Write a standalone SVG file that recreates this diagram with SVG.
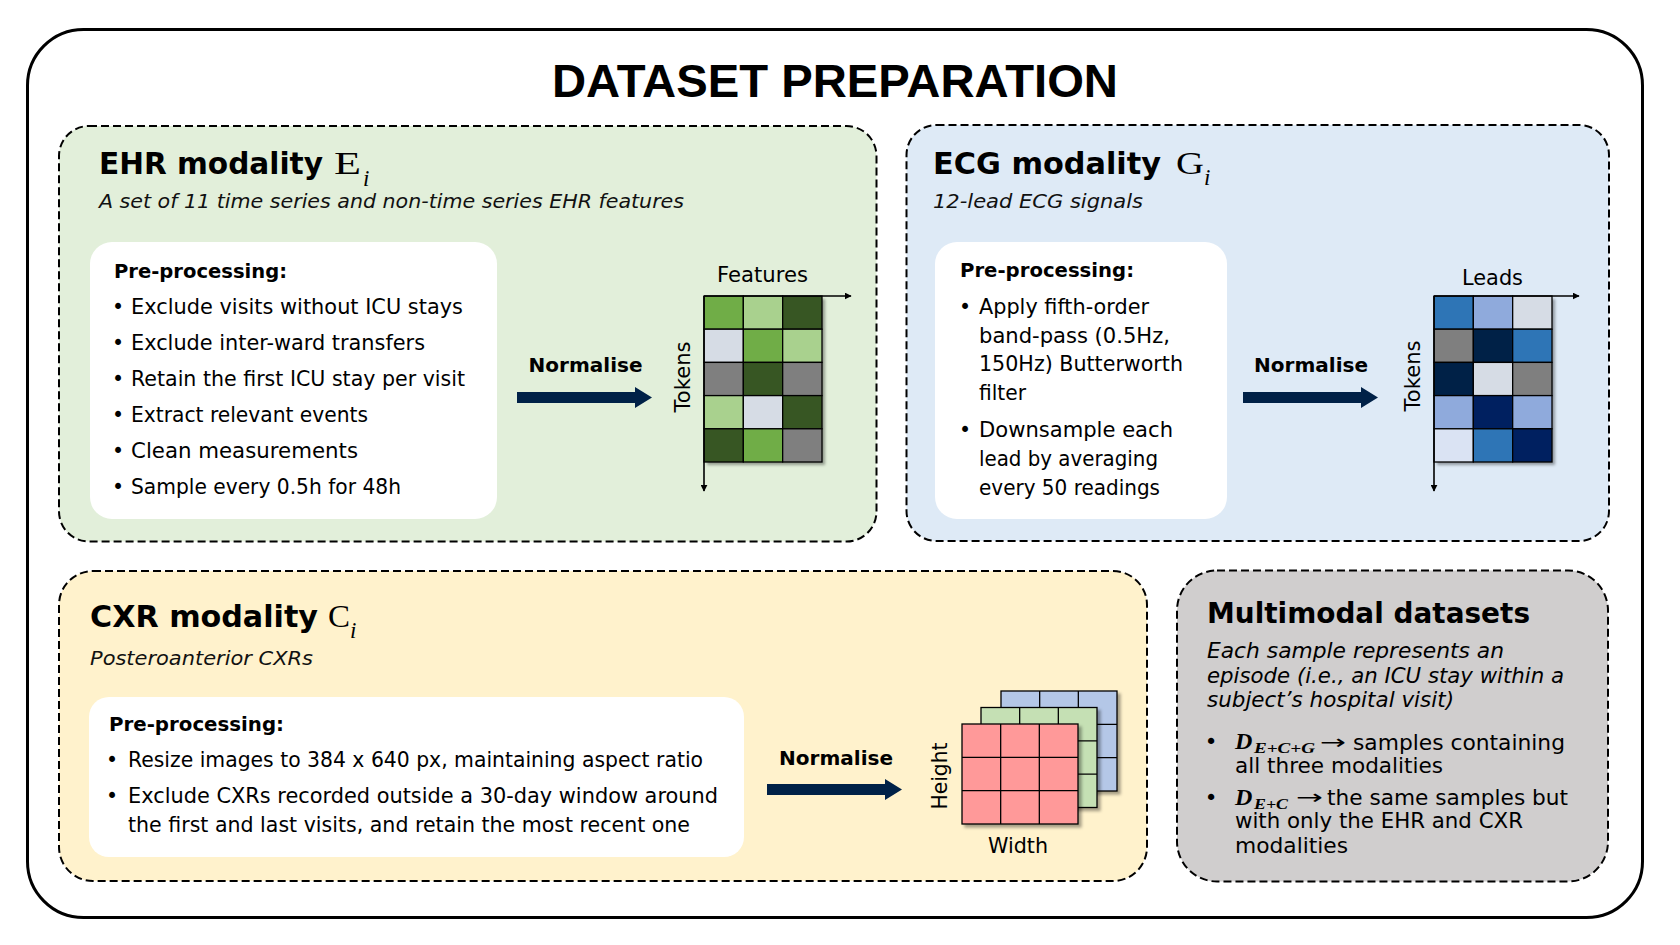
<svg xmlns="http://www.w3.org/2000/svg" width="1680" height="945" viewBox="0 0 1680 945">
<defs>
<style>
.t{font-family:"DejaVu Sans","Liberation Sans",sans-serif;fill:#000}
.b{font-weight:bold}
.i{font-style:italic}
.h2{font-size:30px;font-weight:bold}
.sub{font-size:20px;font-style:italic;fill:#111}
.body{font-size:20.5px}
.pp{font-size:20px;font-weight:bold}
.norm{font-size:20px;font-weight:bold}
.ax{font-size:20.5px}
.m{font-family:"Liberation Serif","DejaVu Serif",serif;fill:#000}
.dash{stroke:#000;stroke-width:2;stroke-dasharray:8 4}
.card{fill:#fff}
.cell{stroke:#000;stroke-width:1.3}
.axis{stroke:#000;stroke-width:1.6;fill:none}
.arrow{fill:#002147}
</style>
<marker id="ah" viewBox="0 0 10 10" refX="9" refY="5" markerWidth="7" markerHeight="7" markerUnits="userSpaceOnUse" orient="auto">
<path d="M0,0 L10,5 L0,10 Z" fill="#000"/>
</marker>
<filter id="sh" x="-10%" y="-10%" width="130%" height="130%">
<feDropShadow dx="3" dy="3" stdDeviation="1.5" flood-color="#000" flood-opacity="0.35"/>
</filter>
<path id="arr" d="M0,-5.5 H118 V-10.5 L135,0 L118,10.5 V5.5 H0 Z"/>
</defs>

<rect width="1680" height="945" fill="#fff"/>

<g id="frame">
<rect x="27.5" y="29.5" width="1615" height="888" rx="56" ry="56" fill="none" stroke="#000" stroke-width="3"/>
<text class="t b" x="835" y="97" text-anchor="middle" style="font-family:'Liberation Sans',Arial,sans-serif;font-size:47px" textLength="566" lengthAdjust="spacingAndGlyphs">DATASET PREPARATION</text>
</g>

<!-- EHR -->
<g id="ehr">
<rect x="59" y="126" width="817.5" height="415.5" rx="30" class="dash" fill="#E2EFDA"/>
<text class="t h2" x="99" y="174" textLength="224" lengthAdjust="spacingAndGlyphs">EHR modality</text>
<text class="m" x="334" y="174" font-size="32" textLength="27" lengthAdjust="spacingAndGlyphs">E</text>
<text class="m" x="363" y="186" font-size="23" font-style="italic">i</text>
<text class="t sub" x="99" y="208" textLength="585" lengthAdjust="spacingAndGlyphs">A set of 11 time series and non-time series EHR features</text>
<rect x="90" y="242" width="407" height="277" rx="22" class="card"/>
<text class="t pp" x="114" y="278" textLength="173" lengthAdjust="spacingAndGlyphs">Pre-processing:</text>
<g class="t body">
<text x="118" y="314" text-anchor="middle">•</text>
<text x="131" y="314" textLength="332" lengthAdjust="spacingAndGlyphs">Exclude visits without ICU stays</text>
<text x="118" y="350" text-anchor="middle">•</text>
<text x="131" y="350" textLength="294" lengthAdjust="spacingAndGlyphs">Exclude inter-ward transfers</text>
<text x="118" y="386" text-anchor="middle">•</text>
<text x="131" y="386" textLength="334" lengthAdjust="spacingAndGlyphs">Retain the first ICU stay per visit</text>
<text x="118" y="422" text-anchor="middle">•</text>
<text x="131" y="422" textLength="237" lengthAdjust="spacingAndGlyphs">Extract relevant events</text>
<text x="118" y="458" text-anchor="middle">•</text>
<text x="131" y="458" textLength="227" lengthAdjust="spacingAndGlyphs">Clean measurements</text>
<text x="118" y="494" text-anchor="middle">•</text>
<text x="131" y="494" textLength="270" lengthAdjust="spacingAndGlyphs">Sample every 0.5h for 48h</text>
</g>
<text class="t norm" x="585.5" y="372" text-anchor="middle" textLength="114" lengthAdjust="spacingAndGlyphs">Normalise</text>
<rect x="704" y="296" width="118" height="166" fill="#fff" filter="url(#sh)"/>
<g class="cell">
<rect x="704" y="296" width="39.33" height="33.2" fill="#70AD47"/>
<rect x="743.33" y="296" width="39.33" height="33.2" fill="#A9D18E"/>
<rect x="782.67" y="296" width="39.33" height="33.2" fill="#375623"/>
<rect x="704" y="329.2" width="39.33" height="33.2" fill="#D6DCE5"/>
<rect x="743.33" y="329.2" width="39.33" height="33.2" fill="#70AD47"/>
<rect x="782.67" y="329.2" width="39.33" height="33.2" fill="#A9D18E"/>
<rect x="704" y="362.4" width="39.33" height="33.2" fill="#7F7F7F"/>
<rect x="743.33" y="362.4" width="39.33" height="33.2" fill="#375623"/>
<rect x="782.67" y="362.4" width="39.33" height="33.2" fill="#7F7F7F"/>
<rect x="704" y="395.6" width="39.33" height="33.2" fill="#A9D18E"/>
<rect x="743.33" y="395.6" width="39.33" height="33.2" fill="#D6DCE5"/>
<rect x="782.67" y="395.6" width="39.33" height="33.2" fill="#375623"/>
<rect x="704" y="428.8" width="39.33" height="33.2" fill="#375623"/>
<rect x="743.33" y="428.8" width="39.33" height="33.2" fill="#70AD47"/>
<rect x="782.67" y="428.8" width="39.33" height="33.2" fill="#7F7F7F"/>
</g>
<line x1="704" y1="296" x2="851" y2="296" class="axis" marker-end="url(#ah)"/>
<line x1="704" y1="296" x2="704" y2="491" class="axis" marker-end="url(#ah)"/>
<text class="t ax" x="762.5" y="282" text-anchor="middle" textLength="91" lengthAdjust="spacingAndGlyphs">Features</text>
<text class="t ax" transform="translate(690,377) rotate(-90)" text-anchor="middle" textLength="71" lengthAdjust="spacingAndGlyphs">Tokens</text>
</g>

<!-- ECG -->
<g id="ecg">
<rect x="906.5" y="125" width="702.5" height="416" rx="30" class="dash" fill="#DEEAF6"/>
<text class="t h2" x="933" y="174" textLength="228" lengthAdjust="spacingAndGlyphs">ECG modality</text>
<text class="m" x="1176" y="174" font-size="32" textLength="28" lengthAdjust="spacingAndGlyphs">G</text>
<text class="m" x="1204" y="185" font-size="23" font-style="italic">i</text>
<text class="t sub" x="933" y="208" textLength="210" lengthAdjust="spacingAndGlyphs">12-lead ECG signals</text>
<rect x="935" y="242" width="292" height="277" rx="22" class="card"/>
<text class="t pp" x="960" y="277" textLength="174" lengthAdjust="spacingAndGlyphs">Pre-processing:</text>
<g class="t body">
<text x="965" y="314" text-anchor="middle">•</text>
<text x="979" y="314" textLength="170" lengthAdjust="spacingAndGlyphs">Apply fifth-order</text>
<text x="979" y="343" textLength="191" lengthAdjust="spacingAndGlyphs">band-pass (0.5Hz,</text>
<text x="979" y="371" textLength="204" lengthAdjust="spacingAndGlyphs">150Hz) Butterworth</text>
<text x="979" y="400" textLength="47" lengthAdjust="spacingAndGlyphs">filter</text>
<text x="965" y="437" text-anchor="middle">•</text>
<text x="979" y="437" textLength="194" lengthAdjust="spacingAndGlyphs">Downsample each</text>
<text x="979" y="466" textLength="179" lengthAdjust="spacingAndGlyphs">lead by averaging</text>
<text x="979" y="495" textLength="181" lengthAdjust="spacingAndGlyphs">every 50 readings</text>
</g>
<text class="t norm" x="1311" y="372" text-anchor="middle" textLength="114" lengthAdjust="spacingAndGlyphs">Normalise</text>
<rect x="1434" y="296" width="118" height="166" fill="#fff" filter="url(#sh)"/>
<g class="cell">
<rect x="1434" y="296" width="39.33" height="33.2" fill="#2E75B6"/>
<rect x="1473.33" y="296" width="39.33" height="33.2" fill="#8FAADC"/>
<rect x="1512.67" y="296" width="39.33" height="33.2" fill="#D6DCE5"/>
<rect x="1434" y="329.2" width="39.33" height="33.2" fill="#7F7F7F"/>
<rect x="1473.33" y="329.2" width="39.33" height="33.2" fill="#002147"/>
<rect x="1512.67" y="329.2" width="39.33" height="33.2" fill="#2E75B6"/>
<rect x="1434" y="362.4" width="39.33" height="33.2" fill="#002147"/>
<rect x="1473.33" y="362.4" width="39.33" height="33.2" fill="#D6DCE5"/>
<rect x="1512.67" y="362.4" width="39.33" height="33.2" fill="#7F7F7F"/>
<rect x="1434" y="395.6" width="39.33" height="33.2" fill="#8FAADC"/>
<rect x="1473.33" y="395.6" width="39.33" height="33.2" fill="#002060"/>
<rect x="1512.67" y="395.6" width="39.33" height="33.2" fill="#8FAADC"/>
<rect x="1434" y="428.8" width="39.33" height="33.2" fill="#DAE3F3"/>
<rect x="1473.33" y="428.8" width="39.33" height="33.2" fill="#2E75B6"/>
<rect x="1512.67" y="428.8" width="39.33" height="33.2" fill="#002060"/>
</g>
<line x1="1434" y1="296" x2="1579" y2="296" class="axis" marker-end="url(#ah)"/>
<line x1="1434" y1="296" x2="1434" y2="491" class="axis" marker-end="url(#ah)"/>
<text class="t ax" x="1492.5" y="285" text-anchor="middle" textLength="61" lengthAdjust="spacingAndGlyphs">Leads</text>
<text class="t ax" transform="translate(1420,376) rotate(-90)" text-anchor="middle" textLength="71" lengthAdjust="spacingAndGlyphs">Tokens</text>
</g>

<!-- CXR -->
<g id="cxr">
<rect x="59" y="571" width="1088" height="310" rx="34" class="dash" fill="#FFF2CC"/>
<text class="t h2" x="90" y="627" textLength="228" lengthAdjust="spacingAndGlyphs">CXR modality</text>
<text class="m" x="328" y="627" font-size="32" textLength="22" lengthAdjust="spacingAndGlyphs">C</text>
<text class="m" x="350" y="638" font-size="23" font-style="italic">i</text>
<text class="t sub" x="90" y="665" textLength="223" lengthAdjust="spacingAndGlyphs">Posteroanterior CXRs</text>
<rect x="89" y="697" width="655" height="160" rx="20" class="card"/>
<text class="t pp" x="109" y="731" textLength="175" lengthAdjust="spacingAndGlyphs">Pre-processing:</text>
<g class="t body">
<text x="112" y="767" text-anchor="middle">•</text>
<text x="128" y="767" textLength="575" lengthAdjust="spacingAndGlyphs">Resize images to 384 x 640 px, maintaining aspect ratio</text>
<text x="112" y="803" text-anchor="middle">•</text>
<text x="128" y="803" textLength="590" lengthAdjust="spacingAndGlyphs">Exclude CXRs recorded outside a 30-day window around</text>
<text x="128" y="832" textLength="562" lengthAdjust="spacingAndGlyphs">the first and last visits, and retain the most recent one</text>
</g>
<text class="t norm" x="836" y="765" text-anchor="middle" textLength="114" lengthAdjust="spacingAndGlyphs">Normalise</text>
<g filter="url(#sh)">
<rect x="1001" y="691" width="116" height="100" fill="#B4C7E7" class="cell"/>
</g>
<g class="cell" fill="none">
<line x1="1039.67" y1="691" x2="1039.67" y2="791"/><line x1="1078.33" y1="691" x2="1078.33" y2="791"/>
<line x1="1001" y1="724.33" x2="1117" y2="724.33"/><line x1="1001" y1="757.67" x2="1117" y2="757.67"/>
</g>
<g filter="url(#sh)">
<rect x="981" y="707.5" width="116" height="100" fill="#C5E0B4" class="cell"/>
</g>
<g class="cell" fill="none">
<line x1="1019.67" y1="707.5" x2="1019.67" y2="807.5"/><line x1="1058.33" y1="707.5" x2="1058.33" y2="807.5"/>
<line x1="981" y1="740.83" x2="1097" y2="740.83"/><line x1="981" y1="774.17" x2="1097" y2="774.17"/>
</g>
<g filter="url(#sh)">
<rect x="962" y="724" width="116" height="100" fill="#FF9999" class="cell"/>
</g>
<g class="cell" fill="none">
<line x1="1000.67" y1="724" x2="1000.67" y2="824"/><line x1="1039.33" y1="724" x2="1039.33" y2="824"/>
<line x1="962" y1="757.33" x2="1078" y2="757.33"/><line x1="962" y1="790.67" x2="1078" y2="790.67"/>
</g>
<text class="t ax" transform="translate(947,776) rotate(-90)" text-anchor="middle" textLength="67" lengthAdjust="spacingAndGlyphs">Height</text>
<text class="t ax" x="1018" y="853" text-anchor="middle" textLength="60" lengthAdjust="spacingAndGlyphs">Width</text>
</g>

<!-- Multimodal -->
<g id="multimodal">
<rect x="1177" y="570.5" width="431" height="311" rx="40" class="dash" fill="#D0CECE"/>
<text class="t b" x="1207" y="623" font-size="28" textLength="323" lengthAdjust="spacingAndGlyphs">Multimodal datasets</text>
<g class="t i" font-size="21" fill="#111">
<text x="1207" y="658" textLength="297" lengthAdjust="spacingAndGlyphs">Each sample represents an</text>
<text x="1207" y="683" textLength="357" lengthAdjust="spacingAndGlyphs">episode (i.e., an ICU stay within a</text>
<text x="1207" y="707" textLength="247" lengthAdjust="spacingAndGlyphs">subject’s hospital visit)</text>
</g>
<g class="t" font-size="21.5">
<text x="1211" y="749" text-anchor="middle">•</text>
<text x="1353" y="750" textLength="212" lengthAdjust="spacingAndGlyphs">samples containing</text>
<text x="1235" y="773" textLength="208" lengthAdjust="spacingAndGlyphs">all three modalities</text>
<text x="1211" y="805" text-anchor="middle">•</text>
<text x="1327" y="805" textLength="241" lengthAdjust="spacingAndGlyphs">the same samples but</text>
<text x="1235" y="828" textLength="288" lengthAdjust="spacingAndGlyphs">with only the EHR and CXR</text>
<text x="1235" y="853" textLength="113" lengthAdjust="spacingAndGlyphs">modalities</text>
</g>
<g class="m" font-weight="bold" font-style="italic">
<text x="1235" y="749" font-size="24">D</text>
<text x="1254" y="753" font-size="15" textLength="61" lengthAdjust="spacingAndGlyphs">E+C+G</text>
<text x="1235" y="805" font-size="24">D</text>
<text x="1254" y="809" font-size="15" textLength="34" lengthAdjust="spacingAndGlyphs">E+C</text>
</g>
<g class="t" font-size="20">
<text x="1320" y="749" textLength="26" lengthAdjust="spacingAndGlyphs">→</text>
<text x="1296" y="804" textLength="27" lengthAdjust="spacingAndGlyphs">→</text>
</g>
</g>

<g id="connectors">
<use href="#arr" class="arrow" transform="translate(517,397.5)"/>
<use href="#arr" class="arrow" transform="translate(1243,397.5)"/>
<use href="#arr" class="arrow" transform="translate(767,789.5)"/>
</g>
</svg>
